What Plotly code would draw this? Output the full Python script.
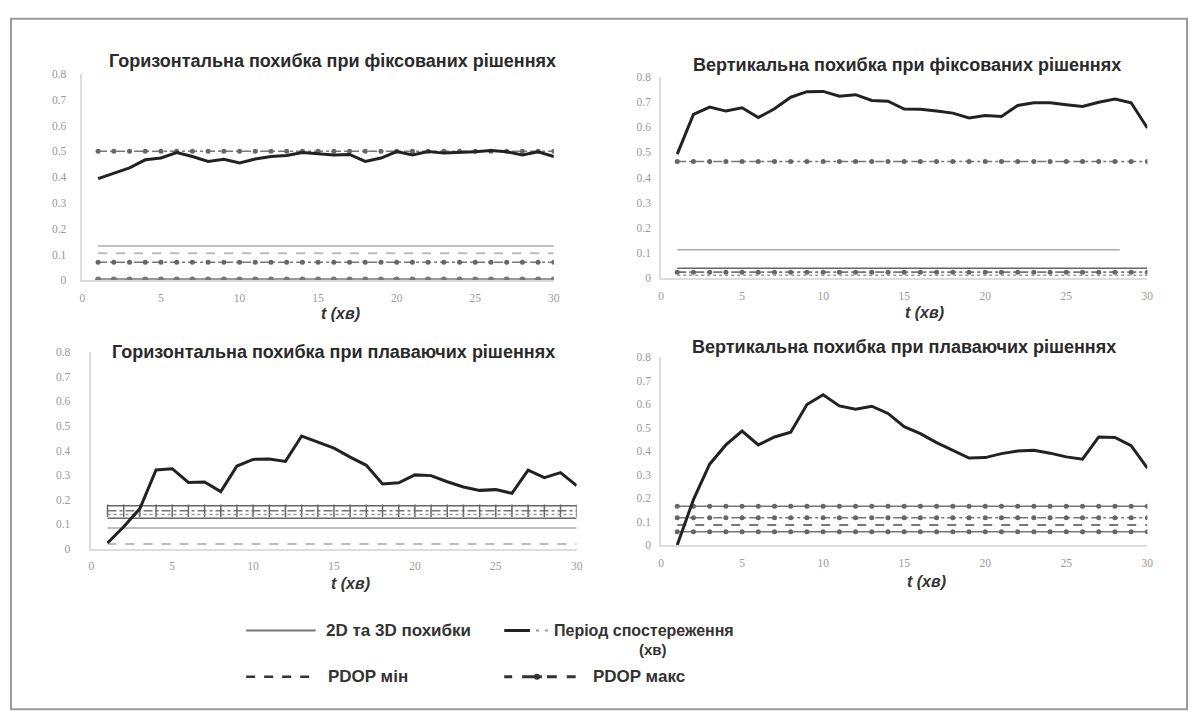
import plotly.graph_objects as go

# ---------------- data ----------------
t = list(range(1, 31))

titles = [
    "Горизонтальна похибка при фіксованих рішеннях",
    "Вертикальна похибка при фіксованих рішеннях",
    "Горизонтальна похибка при плаваючих рішеннях",
    "Вертикальна похибка при плаваючих рішеннях",
]

h_fixed = [0.394, 0.414, 0.436, 0.467, 0.474, 0.495, 0.480, 0.461, 0.469, 0.455,
           0.470, 0.480, 0.484, 0.495, 0.491, 0.486, 0.488, 0.461, 0.474, 0.499,
           0.486, 0.499, 0.493, 0.495, 0.498, 0.503, 0.498, 0.486, 0.498, 0.480]

v_fixed = [0.493, 0.651, 0.680, 0.664, 0.677, 0.638, 0.673, 0.719, 0.741, 0.742,
           0.723, 0.729, 0.706, 0.703, 0.672, 0.671, 0.664, 0.656, 0.637, 0.646,
           0.643, 0.686, 0.697, 0.697, 0.689, 0.682, 0.699, 0.712, 0.697, 0.597]

h_float = [0.024, 0.090, 0.164, 0.321, 0.326, 0.270, 0.272, 0.233, 0.337, 0.364,
           0.366, 0.356, 0.459, 0.434, 0.410, 0.373, 0.340, 0.264, 0.269, 0.301,
           0.298, 0.273, 0.252, 0.238, 0.241, 0.226, 0.320, 0.290, 0.310, 0.257]

v_float = [0.000, 0.193, 0.344, 0.426, 0.485, 0.426, 0.460, 0.480, 0.598, 0.640,
           0.592, 0.578, 0.591, 0.560, 0.504, 0.474, 0.436, 0.403, 0.370, 0.372,
           0.389, 0.400, 0.403, 0.391, 0.375, 0.365, 0.460, 0.458, 0.423, 0.327]

# reference (constant) levels per panel and their style keys
h_fixed_levels = [0.500, 0.133, 0.105, 0.070, 0.003]
h_fixed_kinds = ["dashdot_mk", "thin", "dash", "dashdot_mk", "thick_mk"]
v_fixed_levels = [0.464, 0.114, 0.040, 0.025, 0.013]
v_fixed_kinds = ["dashdot_mk", "thin", "solid", "dashdot_mk", "dot"]
v_fixed_ends = [30, 28.3, 30, 30, 30]
h_float_levels = [0.175, 0.155, 0.140, 0.125, 0.085, 0.020]
h_float_kinds = ["solid", "dashdot_tick", "dot", "solid", "thin", "dash"]
v_float_levels = [0.165, 0.116, 0.085, 0.056]
v_float_kinds = ["solid_mk", "dashdot_mk", "dash_dark", "solid_mk"]

x_ticks = [0, 5, 10, 15, 20, 25, 30]
y_ticks = [0, 0.1, 0.2, 0.3, 0.4, 0.5, 0.6, 0.7, 0.8]

legend_labels = ["2D та 3D похибки", "Період спостереження", "(хв)", "PDOP мін", "PDOP макс"]
axis_title = "t (хв)"

# ---------------- styles ----------------
STY = {
    "dashdot_mk": dict(mode="lines+markers", line=dict(color="#777", width=1.6, dash="dashdot"),
                       marker=dict(color="#666", size=5, symbol="circle")),
    "dashdot_tick": dict(mode="lines+markers", line=dict(color="#777", width=1.4, dash="dashdot"),
                         marker=dict(color="#666", size=9, symbol="line-ns", line=dict(color="#666", width=1.5))),
    "thin": dict(mode="lines", line=dict(color="#aaa", width=1.5)),
    "dash": dict(mode="lines", line=dict(color="#bbb", width=2, dash="dash")),
    "dash_dark": dict(mode="lines", line=dict(color="#777", width=1.8, dash="dash")),
    "thick_mk": dict(mode="lines+markers", line=dict(color="#999", width=3),
                     marker=dict(color="#777", size=6)),
    "solid": dict(mode="lines", line=dict(color="#666", width=1.5)),
    "solid_mk": dict(mode="lines+markers", line=dict(color="#777", width=1.6),
                     marker=dict(color="#666", size=5)),
    "dot": dict(mode="lines", line=dict(color="#999", width=1.5, dash="dot")),
}

fig = go.Figure()

panels = [
    (h_fixed, h_fixed_levels, h_fixed_kinds, [30] * 5, "x", "y"),
    (v_fixed, v_fixed_levels, v_fixed_kinds, v_fixed_ends, "x2", "y2"),
    (h_float, h_float_levels, h_float_kinds, [30] * 6, "x3", "y3"),
    (v_float, v_float_levels, v_float_kinds, [30] * 4, "x4", "y4"),
]

for main, levels, kinds, ends, xa, ya in panels:
    for lev, kind, end in zip(levels, kinds, ends):
        xs = [v for v in t if v <= end]
        if xs[-1] < end:
            xs = xs + [end]
        fig.add_trace(go.Scatter(x=xs, y=[lev] * len(xs), xaxis=xa, yaxis=ya,
                                 showlegend=False, hoverinfo="skip", **STY[kind]))
    fig.add_trace(go.Scatter(x=t, y=main, xaxis=xa, yaxis=ya, mode="lines",
                             line=dict(color="#222", width=3), showlegend=False))

# ---------------- axes ----------------
W, H = 1200, 727

# plot-area pixel boxes: (x at 0, x at 30, y at 0, y at 0.8)
boxes = [(80, 555, 279, 69), (663, 1153, 277, 72), (89, 578, 552, 352), (663, 1153, 548, 357)]
ystand = [12, 6, 17, 6]

tickfont = dict(family="Liberation Serif, DejaVu Serif, serif", size=11.5, color="#999")
layout_axes = {}
for i, ((x0, x1, y0, y1), ys) in enumerate(zip(boxes, ystand)):
    sfx = "" if i == 0 else str(i + 1)
    layout_axes["xaxis" + sfx] = dict(
        domain=[x0 / W, x1 / W], range=[0, 30], tickvals=x_ticks, showgrid=False, zeroline=False,
        showline=True, linecolor="#ddd", linewidth=1.5, ticks="", tickfont=tickfont,
        ticklabelstandoff=6, anchor="y" + sfx, fixedrange=True)
    layout_axes["yaxis" + sfx] = dict(
        domain=[(H - y0) / H, (H - y1) / H], range=[0, 0.8], tickvals=y_ticks, showgrid=False,
        zeroline=False, showline=True, linecolor="#ddd", linewidth=1.5, ticks="", tickfont=tickfont,
        ticklabelstandoff=ys, anchor="x" + sfx, fixedrange=True)

fig.update_layout(**layout_axes)

# ---------------- titles / labels ----------------
title_font = dict(family="Liberation Sans, Arial, sans-serif", size=18, color="#2a2a2a")
title_pos = [(332, 56), (911, 60), (333, 352), (908, 347)]
axlab_pos = [(340, 313), (928, 312), (350, 587), (930, 585)]
ann = []
for txt, (x, y) in zip(titles, title_pos):
    ann.append(dict(text="<b>" + txt + "</b>", x=x / W, y=1 - y / H, xref="paper", yref="paper",
                    showarrow=False, font=title_font, xanchor="center", yanchor="middle"))
for (x, y) in axlab_pos:
    ann.append(dict(text="<b><i>" + axis_title + "</i></b>", x=x / W, y=1 - y / H, xref="paper",
                    yref="paper", showarrow=False,
                    font=dict(family="Liberation Sans, Arial, sans-serif", size=16, color="#333"),
                    xanchor="center", yanchor="middle"))

# ---------------- legend (manual) ----------------
leg_font = dict(family="Liberation Sans, Arial, sans-serif", size=17, color="#333")
def lab(txt, x, y, size=17, anchor="left"):
    return dict(text="<b>" + txt + "</b>", x=x / W, y=1 - y / H, xref="paper", yref="paper",
                showarrow=False, font=dict(leg_font, size=size), xanchor=anchor, yanchor="middle",
                borderpad=0)

ann += [
    lab(legend_labels[0], 324, 635),
    lab(legend_labels[1], 554, 635, 16),
    lab(legend_labels[2], 655, 654, 15, "center"),
    lab(legend_labels[3], 326, 682),
    lab(legend_labels[4], 593, 682),
]

def seg(x0, x1, y, color, width, dash="solid"):
    return dict(type="line", xref="paper", yref="paper", x0=x0 / W, x1=x1 / W,
                y0=1 - y / H, y1=1 - y / H, line=dict(color=color, width=width, dash=dash))

shapes = [
    # page frame
    dict(type="rect", xref="paper", yref="paper", x0=8 / W, x1=1193 / W, y0=1 - 715 / H, y1=1 - 13 / H,
         line=dict(color="#9a9a9a", width=2), layer="below"),
    seg(245, 315, 635, "#777", 2),
    seg(505, 531, 635, "#222", 3),
    seg(537, 540, 635, "#999", 2),
    seg(546, 549, 635, "#999", 2),
    seg(245, 315, 682, "#333", 2.5, "dash"),
    seg(505, 513, 682, "#333", 3),
    seg(523, 543, 682, "#333", 3),
    seg(548, 558, 682, "#333", 3),
    seg(568, 577, 682, "#333", 3),
    dict(type="circle", xref="paper", yref="paper", x0=535 / W, x1=541 / W, y0=1 - 685 / H, y1=1 - 679 / H,
         fillcolor="#333", line=dict(color="#333", width=0)),
]

fig.update_layout(
    width=W, height=H, margin=dict(l=0, r=0, t=0, b=0),
    paper_bgcolor="white", plot_bgcolor="white",
    annotations=ann, shapes=shapes, showlegend=False,
)

fig.write_html("out.html", config={"displayModeBar": False},
               post_script="document.body.style.margin='0';")
